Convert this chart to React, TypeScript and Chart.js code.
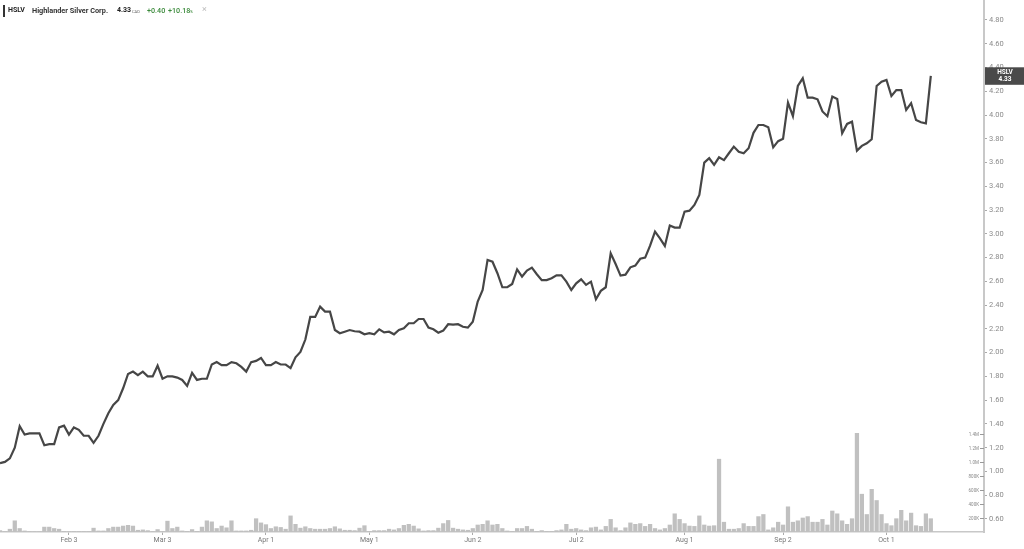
import React, { useEffect, useRef } from "react";
import { Chart, registerables } from "chart.js";

Chart.register(...registerables);

const tickIndices = [14, 33, 54, 75, 96, 117, 139, 159, 180];
const tickLabels = ["Feb 3", "Mar 3", "Apr 1", "May 1", "Jun 2", "Jul 2", "Aug 1", "Sep 2", "Oct 1"];

const prices = [
  1.07, 1.08, 1.11, 1.2, 1.38, 1.31, 1.32, 1.32, 1.32, 1.22,
  1.23, 1.23, 1.37, 1.385, 1.31, 1.37, 1.35, 1.3, 1.3, 1.24,
  1.3, 1.4, 1.49, 1.56, 1.6, 1.7, 1.82, 1.84, 1.81, 1.84,
  1.8, 1.8, 1.89, 1.78, 1.8, 1.8, 1.79, 1.77, 1.72, 1.83,
  1.77, 1.78, 1.78, 1.9, 1.92, 1.895, 1.895, 1.92, 1.91, 1.88,
  1.84, 1.92, 1.93, 1.955, 1.895, 1.895, 1.92, 1.9, 1.9, 1.87,
  1.96, 2.005, 2.11, 2.3, 2.3, 2.387, 2.345, 2.345, 2.19, 2.163,
  2.176, 2.19, 2.18, 2.176, 2.154, 2.163, 2.154, 2.196, 2.17, 2.176,
  2.154, 2.19, 2.205, 2.247, 2.247, 2.283, 2.283, 2.21, 2.196, 2.168,
  2.185, 2.239, 2.235, 2.239, 2.218, 2.21, 2.26, 2.43, 2.527, 2.78,
  2.765, 2.668, 2.55, 2.55, 2.578, 2.7, 2.64, 2.69, 2.715, 2.66,
  2.61, 2.61, 2.626, 2.65, 2.65, 2.597, 2.527, 2.583, 2.617, 2.57,
  2.597, 2.449, 2.52, 2.55, 2.836, 2.746, 2.648, 2.656, 2.718, 2.732,
  2.79, 2.8, 2.9, 3.018, 2.962, 2.898, 3.07, 3.052, 3.052, 3.186,
  3.195, 3.243, 3.327, 3.599, 3.636, 3.58, 3.644, 3.62, 3.678, 3.734,
  3.69, 3.678, 3.72, 3.85, 3.916, 3.916, 3.897, 3.728, 3.78, 3.8,
  4.104, 3.99, 4.244, 4.309, 4.146, 4.146, 4.132, 4.03, 3.99, 4.155,
  4.135, 3.846, 3.925, 3.944, 3.7, 3.74, 3.762, 3.796, 4.244, 4.28,
  4.295, 4.16, 4.21, 4.21, 4.042, 4.1, 3.958, 3.939, 3.93, 4.33,
];

// volume in thousands of shares
const volumesK = [
  20, 5, 40, 160, 50, 15, 5, 3, 3, 70,
  70, 50, 40, 10, 5, 8, 8, 8, 8, 55,
  15, 15, 50, 70, 70, 85, 95, 85, 25, 30,
  20, 5, 35, 5, 155, 50, 70, 15, 10, 35,
  10, 70, 160, 145, 50, 85, 60, 160, 15, 15,
  15, 25, 190, 130, 105, 50, 75, 65, 40, 230,
  110, 55, 75, 50, 40, 40, 40, 50, 75, 45,
  25, 25, 20, 55, 90, 10, 20, 20, 20, 40,
  30, 50, 95, 110, 85, 45, 15, 20, 20, 55,
  120, 165, 55, 40, 30, 25, 50, 100, 110, 160,
  100, 110, 50, 15, 10, 50, 50, 80, 40, 10,
  20, 10, 10, 20, 30, 110, 40, 50, 30, 20,
  60, 70, 30, 80, 180, 60, 20, 60, 130, 110,
  120, 80, 110, 50, 30, 50, 100, 260, 180, 120,
  85, 80, 230, 100, 85, 90, 1040, 140, 40, 40,
  50, 120, 80, 80, 220, 250, 30, 60, 140, 100,
  360, 140, 160, 200, 220, 140, 140, 180, 100, 300,
  260, 160, 110, 190, 1410, 540, 250, 610, 450, 250,
  120, 90, 190, 310, 160, 270, 90, 80, 260, 190,
];

const priceTicks = [
  0.6, 0.8, 1.0, 1.2, 1.4, 1.6, 1.8, 2.0, 2.2, 2.4, 2.6,
  2.8, 3.0, 3.2, 3.4, 3.6, 3.8, 4.0, 4.2, 4.4, 4.6, 4.8,
];
const volumeTicks = [200000, 400000, 600000, 800000, 1000000, 1200000, 1400000];
const volumeTickLabels = ["200K", "400K", "600K", "800K", "1.0M", "1.2M", "1.4M"];

const symbol = "HSLV";
const companyName = "Highlander Silver Corp.";
const lastPrice = 4.33;
const currency = "CAD";
const change = "+0.40";
const changePct = "+10.18";

const FONT = "Roboto, 'Noto Sans', sans-serif";

const noPad = (s: any) => {
  s.paddingTop = 0;
  s.paddingBottom = 0;
  s.paddingLeft = 0;
  s.paddingRight = 0;
};

const overlayPlugin = {
  id: "overlay",
  afterDraw(chart: any) {
    const ctx = chart.ctx;
    const y = chart.scales.y;
    const v = chart.scales.v;
    ctx.save();
    // volume axis tick marks and labels (inside the plot)
    ctx.strokeStyle = "#999";
    ctx.lineWidth = 1;
    ctx.fillStyle = "#888";
    ctx.font = `4.5px ${FONT}`;
    ctx.textAlign = "right";
    ctx.textBaseline = "middle";
    volumeTicks.forEach((t, k) => {
      const py = Math.round(v.getPixelForValue(t)) + 0.5;
      ctx.beginPath();
      ctx.moveTo(y.left - 4, py);
      ctx.lineTo(y.left, py);
      ctx.stroke();
      ctx.fillText(volumeTickLabels[k], y.left - 5, py);
    });
    // last price tag
    const py = y.getPixelForValue(lastPrice);
    ctx.fillStyle = "#4a4a4a";
    ctx.fillRect(y.left + 1, py - 8.5, chart.width - y.left - 1, 17.5);
    ctx.fillStyle = "#ffffff";
    ctx.textAlign = "center";
    ctx.textBaseline = "middle";
    ctx.font = `bold 6.5px ${FONT}`;
    const cx = (y.left + chart.width) / 2 + 1;
    ctx.fillText(symbol, cx, py - 3.2);
    ctx.fillText(lastPrice.toFixed(2), cx, py + 3.8);
    ctx.restore();
  },
};

export default function App() {
  const ref = useRef<HTMLCanvasElement>(null);

  useEffect(() => {
    const canvas = ref.current;
    if (!canvas) return;
    const chart = new Chart(canvas, {
      type: "bar",
      data: {
        datasets: [
          {
            type: "line",
            label: symbol,
            data: prices.map((p, i) => ({ x: i, y: p })),
            borderColor: "#464646",
            borderWidth: 2.2,
            pointRadius: 0,
            tension: 0,
            yAxisID: "y",
            xAxisID: "x",
            order: 0,
          } as any,
          {
            type: "bar",
            label: "Volume",
            data: volumesK.map((vk, i) => ({ x: i, y: vk * 1000 })),
            backgroundColor: "#c0c0c0",
            barThickness: 3.6,
            yAxisID: "v",
            xAxisID: "x",
            order: 1,
          } as any,
        ],
      },
      options: {
        animation: false,
        responsive: false,
        maintainAspectRatio: false,
        layout: { padding: 0 },
        plugins: {
          legend: { display: false },
          tooltip: { enabled: false },
        },
        scales: {
          x: {
            type: "linear",
            min: 0,
            max: 199.8,
            offset: false,
            afterBuildTicks: (s: any) => {
              s.ticks = tickIndices.map((value) => ({ value }));
            },
            afterFit: (s: any) => {
              s.height = 17;
              noPad(s);
            },
            ticks: {
              autoSkip: false,
              maxRotation: 0,
              padding: 1,
              color: "#777",
              font: { size: 7, family: FONT },
              callback: (val: any) => {
                const k = tickIndices.indexOf(Number(val));
                return k >= 0 ? tickLabels[k] : "";
              },
            },
            grid: { drawOnChartArea: false, tickLength: 3, color: "#aaa", offset: false },
            border: { color: "#c8c8c8", width: 1.5 },
          },
          v: {
            type: "linear",
            position: "right",
            weight: 0,
            min: 0,
            max: 7600000,
            afterFit: (s: any) => {
              s.width = 0;
              noPad(s);
            },
            ticks: { display: false },
            grid: { display: false },
            border: { display: false },
          },
          y: {
            type: "linear",
            position: "right",
            weight: 1,
            min: 0.49,
            max: 4.968,
            afterBuildTicks: (s: any) => {
              s.ticks = priceTicks.map((value) => ({ value }));
            },
            afterFit: (s: any) => {
              s.width = 40;
              noPad(s);
            },
            ticks: {
              padding: 2,
              color: "#8a8a8a",
              font: { size: 7.5, family: FONT },
              callback: (val: any) => Number(val).toFixed(2),
            },
            grid: { drawOnChartArea: false, tickLength: 3, color: "#aaa" },
            border: { color: "#c8c8c8", width: 2 },
          },
        },
      } as any,
      plugins: [overlayPlugin],
    });
    return () => chart.destroy();
  }, []);

  const base: React.CSSProperties = {
    position: "absolute",
    fontFamily: FONT,
    lineHeight: 1,
    whiteSpace: "nowrap",
  };

  return (
    <div style={{ position: "fixed", left: 0, top: 0, width: 1024, height: 549, background: "#fff" }}>
      <canvas ref={ref} width={1024} height={549} style={{ display: "block" }} />
      <div style={{ ...base, left: 3, top: 5, width: 2, height: 12, background: "#333" }} />
      <span style={{ ...base, left: 8, top: 7, fontSize: 7, fontWeight: 700, color: "#222" }}>{symbol}</span>
      <span style={{ ...base, left: 32, top: 7, fontSize: 7.3, fontWeight: 700, color: "#333" }}>{companyName}</span>
      <span style={{ ...base, left: 117, top: 7, fontSize: 7, fontWeight: 700, color: "#222" }}>{lastPrice.toFixed(2)}</span>
      <span style={{ ...base, left: 132, top: 9.5, fontSize: 4, color: "#666" }}>{currency}</span>
      <span style={{ ...base, left: 147, top: 7, fontSize: 7.2, fontWeight: 500, color: "#3b8a3b" }}>{change}</span>
      <span style={{ ...base, left: 168, top: 7, fontSize: 7.2, fontWeight: 500, color: "#3b8a3b" }}>{changePct}</span>
      <span style={{ ...base, left: 190, top: 9.5, fontSize: 4, color: "#3b8a3b" }}>%</span>
      <span style={{ ...base, left: 202, top: 5, fontSize: 9, color: "#bbb" }}>×</span>
    </div>
  );
}
